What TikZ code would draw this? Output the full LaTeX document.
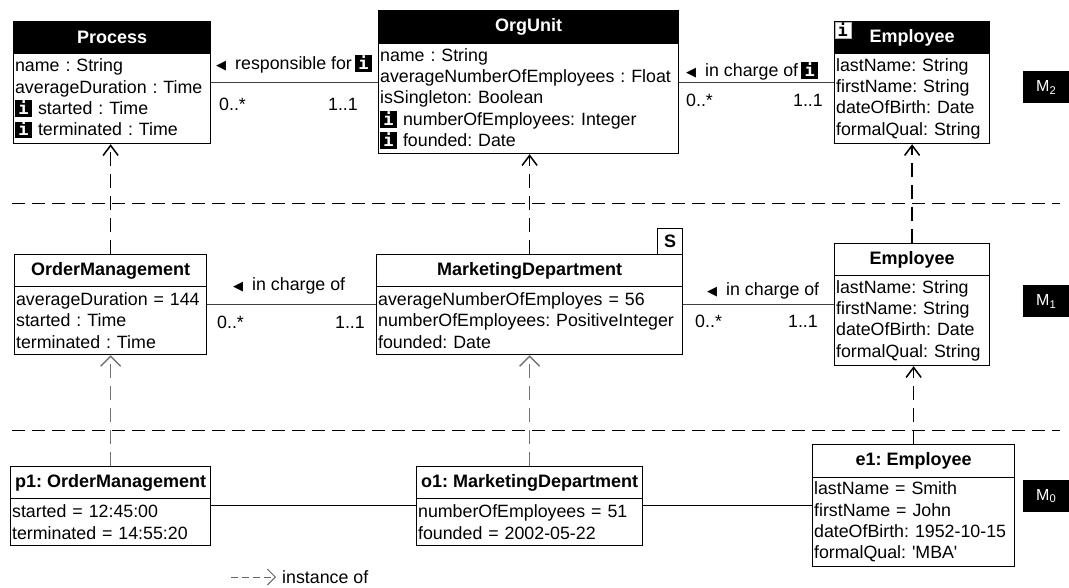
\documentclass[tikz,border=0pt]{standalone}
\usepackage{fontspec}
\setmainfont{Liberation Sans}[Ligatures=TeXOff]
\newfontfamily\iconfont{DejaVu Sans Mono}
\newfontfamily\markfont{DejaVu Sans}
\usetikzlibrary{arrows.meta}
\newcommand{\infoicon}{{\fboxsep=0pt\colorbox{black}{\makebox[17pt][c]{\rule[-2.5pt]{0pt}{16.5pt}\color{white}\iconfont\bfseries\fontsize{17}{17}\selectfont i}}}}
\newcommand{\assocmark}{\makebox[19pt][l]{\markfont\fontsize{13}{13}\selectfont ◀}}
\begin{document}
\frenchspacing
\begin{tikzpicture}[x=1pt,y=-1pt,
      every node/.style={font=\fontsize{17.8}{21.3}\selectfont},
      headblack/.style={draw,line width=1.2pt,fill=black,text=white,anchor=north west,inner sep=0pt,font=\fontsize{18}{21.3}\selectfont\bfseries},
      headwhite/.style={draw,line width=1.2pt,fill=white,anchor=north west,inner sep=0pt,font=\fontsize{18}{21.3}\selectfont\bfseries},
      attrs/.style={draw,line width=1.2pt,fill=white,anchor=north west,inner xsep=1.5pt,inner ysep=0pt,align=left},
      assoc/.style={draw=black!75,line width=1pt},
      instblack/.style={line width=1.5pt,dash pattern=on 14pt off 8pt,-{Straight Barb[length=10pt,width=15pt]}},
      instgray/.style={draw=black!55,line width=1.5pt,dash pattern=on 14pt off 8pt,-{Straight Barb[length=10pt,width=20pt]}},
      level/.style={draw=black,line width=1.2pt,dash pattern=on 13pt off 7pt},
      mbox/.style={fill=black,text=white,anchor=north west,minimum width=46pt,minimum height=32pt,inner sep=0pt,font=\fontsize{16}{16}\selectfont},
      ]
        \useasboundingbox (0,0) rectangle (1069,587);

        \draw [level] (12,203.5) coordinate (L1a) -- (1060,203.5) coordinate (L1b);
        \draw [level] (12,430.5) coordinate (L0a) -- (1060,430.5) coordinate (L0b);

        \node [headblack,minimum width=197pt,minimum height=32pt] (hProcess) at (13,21) {Process};
        \node [attrs,text width=194pt,minimum height=90pt] (bProcess) at (13,53)
          {name : String\\averageDuration : Time\\\infoicon\ started : Time\\\infoicon\ terminated : Time};

        \node [headblack,minimum width=300pt,minimum height=33pt] (hOrgUnit) at (378,10) {OrgUnit};
        \node [attrs,text width=297pt,minimum height=110pt] (bOrgUnit) at (378,43)
          {name : String\\averageNumberOfEmployees : Float\\isSingleton: Boolean\\\infoicon\ numberOfEmployees: Integer\\\infoicon\ founded: Date};

        \node [headblack,minimum width=155pt,minimum height=32pt] (hEmployee) at (834,21) {Employee};
        \node [draw=black!30,line width=0.7pt,fill=white,anchor=north west,minimum width=16pt,minimum height=16pt,inner sep=0pt,
          font=\fontsize{17}{17}\selectfont\iconfont\bfseries] (iEmployee) at (834.5,21.5) {i};
        \node [attrs,text width=152pt,minimum height=90pt] (bEmployee) at (834,53)
          {lastName: String\\firstName: String\\dateOfBirth: Date\\formalQual: String};

        \node [headwhite,minimum width=192pt,minimum height=32pt] (hOrder) at (14,254) {OrderManagement};
        \node [attrs,text width=189pt,minimum height=68pt] (bOrder) at (14,286)
          {averageDuration = 144\\started : Time\\terminated : Time};

        \node [headwhite,minimum width=25pt,minimum height=26pt] (sMarketing) at (657,228) {S};
        \node [headwhite,minimum width=306pt,minimum height=32pt] (hMarketing) at (376,254) {MarketingDepartment};
        \node [attrs,text width=303pt,minimum height=68pt] (bMarketing) at (376,286)
          {averageNumberOfEmployes = 56\\numberOfEmployees: PositiveInteger\\founded: Date};

        \node [headwhite,minimum width=155pt,minimum height=32pt] (hStaff) at (834,243) {Employee};
        \node [attrs,text width=152pt,minimum height=90pt] (bStaff) at (834,275)
          {lastName: String\\firstName: String\\dateOfBirth: Date\\formalQual: String};

        \node [headwhite,minimum width=200pt,minimum height=32pt] (hP1) at (10,466) {p1: OrderManagement};
        \node [attrs,text width=197pt,minimum height=47pt] (bP1) at (10,498)
          {started = 12:45:00\\terminated = 14:55:20};

        \node [headwhite,minimum width=226pt,minimum height=32pt] (hO1) at (416,466) {o1: MarketingDepartment};
        \node [attrs,text width=223pt,minimum height=47pt] (bO1) at (416,498)
          {numberOfEmployees = 51\\founded = 2002-05-22};

        \node [headwhite,minimum width=202pt,minimum height=33pt] (hE1) at (812,444) {e1: Employee};
        \node [attrs,text width=199pt,minimum height=89pt] (bE1) at (812,477)
          {lastName = Smith\\firstName = John\\dateOfBirth: 1952-10-15\\formalQual: 'MBA'};

        \draw [assoc] ([yshift=16pt]bProcess.east) -- ([yshift=16pt]bOrgUnit.west);
        \draw [assoc] ([yshift=16pt]bOrgUnit.east) -- ([yshift=16pt]bEmployee.west);
        \draw [assoc] ([yshift=16pt]bOrder.east) -- ([yshift=16pt]bMarketing.west);
        \draw [assoc] ([yshift=16pt]bMarketing.east) -- ([yshift=16pt]bStaff.west);
        \draw [assoc,draw=black] ([yshift=16.5pt]bP1.east) -- ([yshift=16.5pt]bO1.west);
        \draw [assoc,draw=black] ([yshift=16.5pt]bO1.east) -- ([yshift=16.5pt]bE1.west);

        \draw [instblack] (hOrder.north) -- (hOrder.north |- bProcess.south);
        \draw [instblack] (hMarketing.north) -- (hMarketing.north |- bOrgUnit.south);
        \draw [instblack] (hStaff.north) -- (hStaff.north |- bEmployee.south);
        \draw [instgray] (hP1.north) -- (hP1.north |- bOrder.south);
        \draw [instgray] (hO1.north -| hMarketing.north) -- (bMarketing.south);
        \draw [instblack] (hE1.north) -- (hE1.north |- bStaff.south);

        \node [anchor=west,inner sep=0pt] (lResp) at (216,64) {\assocmark responsible for\,\infoicon};
        \node [anchor=west,inner sep=0pt] (lCharge) at (686,71) {\assocmark in charge of\,\infoicon};
        \node [anchor=west,inner sep=0pt] (lOrder) at (233,286) {\assocmark in charge of};
        \node [anchor=west,inner sep=0pt] (lDept) at (707,291) {\assocmark in charge of};

        \node [anchor=west,inner sep=0pt] (m1) at (219,104) {0..*};
        \node [anchor=east,inner sep=0pt] (m2) at (358,104) {1..1};
        \node [anchor=west,inner sep=0pt] (m3) at (686,100) {0..*};
        \node [anchor=east,inner sep=0pt] (m4) at (823,100) {1..1};
        \node [anchor=west,inner sep=0pt] (m5) at (217,322) {0..*};
        \node [anchor=east,inner sep=0pt] (m6) at (365,322) {1..1};
        \node [anchor=west,inner sep=0pt] (m7) at (695,321) {0..*};
        \node [anchor=east,inner sep=0pt] (m8) at (818,321) {1..1};

        \node [mbox] (M2) at (1023,71) {M\textsubscript{2}};
        \node [mbox] (M1) at (1023,285) {M\textsubscript{1}};
        \node [mbox] (M0) at (1023,480) {M\textsubscript{0}};

        \coordinate (instA) at (231,577);
        \node [anchor=west,inner sep=0pt] (instLabel) at (282,577) {instance of};
        \draw [draw=black!60,line width=1pt,dash pattern=on 7pt off 4pt,-{Straight Barb[length=8pt,width=16pt]}]
          (instA) -- ([xshift=-6pt]instLabel.west);
      \end{tikzpicture}
\end{document}
